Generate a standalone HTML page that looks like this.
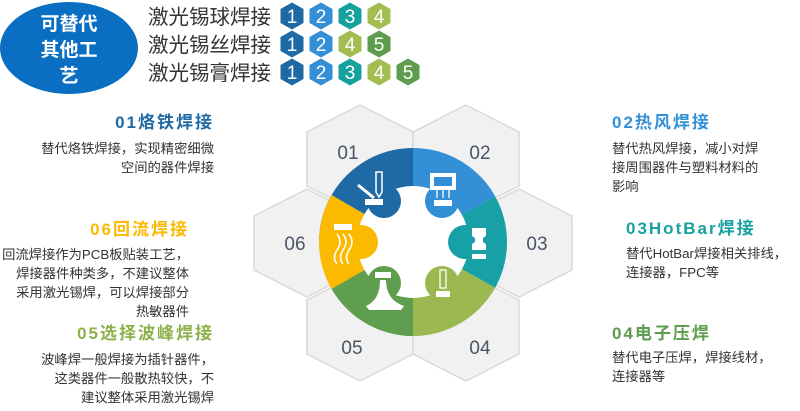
<!DOCTYPE html>
<html><head><meta charset="utf-8"><style>
html,body{margin:0;padding:0;background:#fff;}
svg{display:block;font-family:"Liberation Sans","Noto Sans CJK SC",sans-serif;}
</style></head><body>
<svg width="800" height="411" viewBox="0 0 800 411" xmlns="http://www.w3.org/2000/svg">
<defs>
<g id="hx"><polygon points="0,-54 53,-27 53,27 0,54 -53,27 -53,-27" fill="#f1f1f1" stroke="#d9d9d9" stroke-width="1.5"/></g>
<g id="sh"><polygon points="0,-13.5 11.5,-7 11.5,7 0,13.5 -11.5,7 -11.5,-7"/></g>
<clipPath id="ring"><circle cx="413" cy="242" r="94"/></clipPath>
</defs>
<ellipse cx="69" cy="48" rx="69" ry="46" fill="#0a6fc2"/>
<g fill="#fff" font-weight="bold" font-size="19" text-anchor="middle">
<text x="69" y="30">可替代</text><text x="69" y="56">其他工</text><text x="69" y="82">艺</text>
</g>
<g font-size="20.5" fill="#333">
<text x="148" y="24">激光锡球焊接</text>
<text x="148" y="52">激光锡丝焊接</text>
<text x="148" y="80">激光锡膏焊接</text>
</g>
<g font-size="19" fill="#fff" text-anchor="middle">
<g transform="translate(292,16)"><use href="#sh" fill="#1f6aa5"/><text y="7">1</text></g>
<g transform="translate(321,16)"><use href="#sh" fill="#3390d6"/><text y="7">2</text></g>
<g transform="translate(350,16)"><use href="#sh" fill="#17a0a0"/><text y="7">3</text></g>
<g transform="translate(379,16)"><use href="#sh" fill="#a3bd52"/><text y="7">4</text></g>
<g transform="translate(292,44)"><use href="#sh" fill="#1f6aa5"/><text y="7">1</text></g>
<g transform="translate(321,44)"><use href="#sh" fill="#3390d6"/><text y="7">2</text></g>
<g transform="translate(350,44)"><use href="#sh" fill="#a3bd52"/><text y="7">4</text></g>
<g transform="translate(379,44)"><use href="#sh" fill="#5e9c4e"/><text y="7">5</text></g>
<g transform="translate(292,72)"><use href="#sh" fill="#1f6aa5"/><text y="7">1</text></g>
<g transform="translate(321,72)"><use href="#sh" fill="#3390d6"/><text y="7">2</text></g>
<g transform="translate(350,72)"><use href="#sh" fill="#17a0a0"/><text y="7">3</text></g>
<g transform="translate(379,72)"><use href="#sh" fill="#a3bd52"/><text y="7">4</text></g>
<g transform="translate(408,72)"><use href="#sh" fill="#5e9c4e"/><text y="7">5</text></g>
</g>
<use href="#hx" x="307" y="243"/>
<use href="#hx" x="519" y="243"/>
<use href="#hx" x="360" y="159"/>
<use href="#hx" x="466" y="159"/>
<use href="#hx" x="360" y="327"/>
<use href="#hx" x="466" y="327"/>
<g font-size="19" fill="#4a5566" text-anchor="middle">
<text x="348" y="159">01</text><text x="480" y="159">02</text>
<text x="537" y="250">03</text><text x="480" y="354">04</text>
<text x="352" y="354">05</text><text x="295" y="250">06</text>
</g>
<g clip-path="url(#ring)">
<path d="M413,242 L413,140 L300,140 L300,177 Z" fill="#1f6aa5"/>
<path d="M413,242 L300,177 L300,242 Z" fill="#1f6aa5"/>
<path d="M413,242 L413,140 L530,140 L530,177 Z" fill="#3390d6"/>
<path d="M413,242 L530,177 L530,307 Z" fill="#17a0a6"/>
<path d="M413,242 L530,307 L530,345 L413,345 Z" fill="#9ab84f"/>
<path d="M413,242 L413,345 L300,345 L300,307 Z" fill="#5f9e4e"/>
<path d="M413,242 L300,307 L300,177 Z" fill="#fbb900"/>
</g>
<circle cx="413" cy="242" r="56" fill="#fff"/>
<circle cx="384" cy="201" r="17" fill="#1f6aa5"/>
<circle cx="442" cy="201" r="17" fill="#3390d6"/>
<circle cx="465" cy="242" r="17" fill="#17a0a6"/>
<circle cx="442" cy="283" r="17" fill="#9ab84f"/>
<circle cx="384" cy="283" r="17" fill="#5f9e4e"/>
<circle cx="361" cy="242" r="17" fill="#fbb900"/>
<g fill="#fff" stroke="#fff">
<rect x="365" y="199" width="18" height="6" stroke="none"/>
<path d="M376,172 h6 v20 l-3,5 l-3,-5 z" fill="none" stroke-width="1.5"/>
<line x1="358" y1="185" x2="374" y2="198" stroke-width="3"/>
<rect x="432" y="175" width="22" height="13" fill="none" stroke-width="4"/>
<path d="M437,190 v8 M443,190 v8 M449,190 v8" stroke-width="1.3"/>
<rect x="434" y="200" width="18" height="6" stroke="none"/>
<path d="M472,228 h14 v8 l-3,2 v4 l3,2 v6 h-14 v-6 l3,-2 v-4 l-3,-2 z" stroke="none"/>
<rect x="472" y="254" width="14" height="5" stroke="none"/>
<rect x="436" y="291" width="14" height="6" stroke="none"/>
<rect x="440" y="270" width="6" height="18" fill="none" stroke-width="1.3"/>
<rect x="375" y="272" width="16" height="6" stroke="none"/>
<path d="M380,280 h6 q0,20 18,26 l-3,4 h-32 l-3,-4 q14,-6 14,-26 z" stroke="none"/>
<rect x="334" y="224" width="18" height="6" stroke="none"/>
<path d="M337,234 q6,8 0,16 q-5,8 0,14 M343,234 q6,8 0,16 q-5,8 0,14 M349,234 q6,8 0,16 q-5,8 0,14" fill="none" stroke-width="1.6"/>
</g>
<g text-anchor="end">
<text x="214" y="128" font-size="17" font-weight="bold" fill="#1f6aa5" letter-spacing="2">01烙铁焊接</text>
<g font-size="13.3" fill="#333"><text x="214" y="153">替代烙铁焊接，实现精密细微</text><text x="214" y="172">空间的器件焊接</text></g>
<text x="189" y="235" font-size="17" font-weight="bold" fill="#fbb900" letter-spacing="2">06回流焊接</text>
<g font-size="13.3" fill="#333"><text x="189" y="259">回流焊接作为PCB板贴装工艺，</text><text x="189" y="278">焊接器件种类多，不建议整体</text><text x="189" y="297">采用激光锡焊，可以焊接部分</text><text x="189" y="316">热敏器件</text></g>
<text x="214" y="339" font-size="17" font-weight="bold" fill="#8db048" letter-spacing="2">05选择波峰焊接</text>
<g font-size="13.3" fill="#333"><text x="214" y="364">波峰焊一般焊接为插针器件，</text><text x="214" y="383">这类器件一般散热较快，不</text><text x="214" y="402">建议整体采用激光锡焊</text></g>
</g>
<text x="612" y="128" font-size="17" font-weight="bold" fill="#3390d6" letter-spacing="2">02热风焊接</text>
<g font-size="13.3" fill="#333"><text x="612" y="153">替代热风焊接，减小对焊</text><text x="612" y="172">接周围器件与塑料材料的</text><text x="612" y="191">影响</text></g>
<text x="626" y="234" font-size="17" font-weight="bold" fill="#17a0a0" letter-spacing="2">03HotBar焊接</text>
<g font-size="13.3" fill="#333"><text x="626" y="258">替代HotBar焊接相关排线，</text><text x="626" y="277">连接器，FPC等</text></g>
<text x="612" y="339" font-size="17" font-weight="bold" fill="#5e9c4e" letter-spacing="2">04电子压焊</text>
<g font-size="13.3" fill="#333"><text x="612" y="362">替代电子压焊，焊接线材，</text><text x="612" y="381">连接器等</text></g>
</svg>
</body></html>
